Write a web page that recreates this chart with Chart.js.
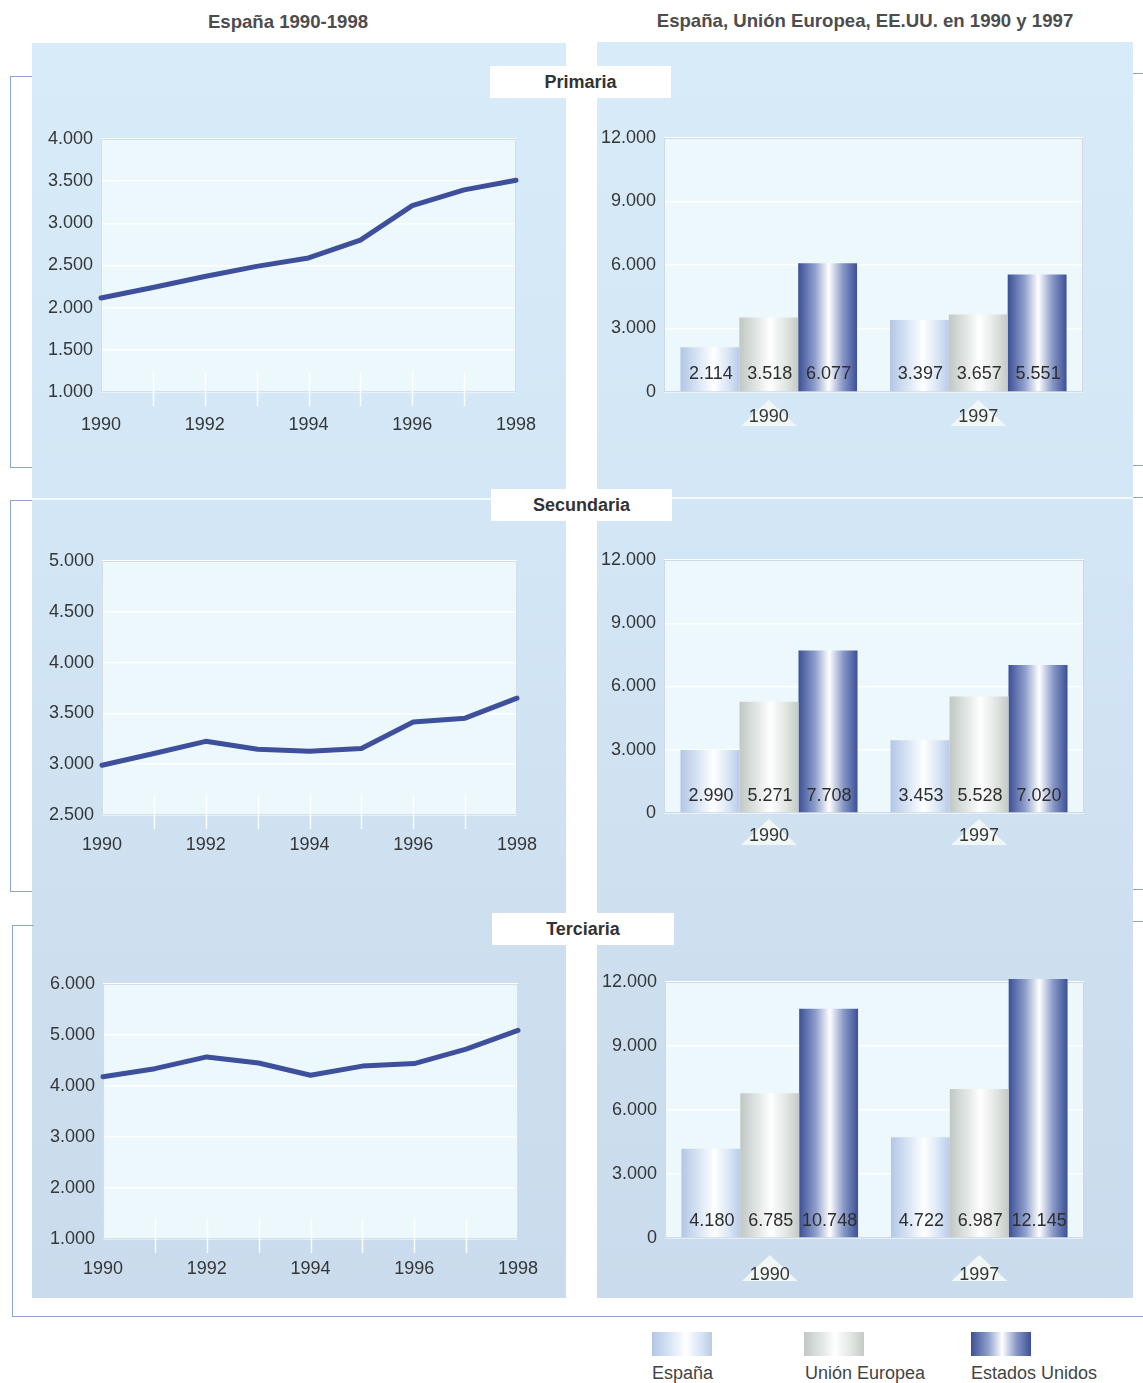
<!DOCTYPE html>
<html lang="es">
<head>
<meta charset="utf-8">
<title>Gasto por alumno: España, Unión Europea y EE.UU.</title>
<script src="https://cdn.jsdelivr.net/npm/chart.js@4.4.1/dist/chart.umd.min.js"></script>
<style>
  html, body { margin: 0; padding: 0; background: #fff; }
  #page { position: relative; width: 1143px; height: 1383px; overflow: hidden;
          font-family: "Liberation Sans", Arial, Helvetica, sans-serif; }
  .panel { position: absolute;
           background: linear-gradient(180deg, #d8ebf9 0%, #d3e6f5 40%, #cddfef 75%, #c9dbec 100%); }
  .sep { position: absolute; height: 2px; background: rgba(255,255,255,0.75); }
  .hdr { position: absolute; font-weight: bold; font-size: 18.6px; color: #4d4d4d;
         white-space: nowrap; transform: translateX(-50%); }
  .tag { position: absolute; background: #fff; font-weight: bold; font-size: 18px; color: #333;
         text-align: center; height: 32px; line-height: 33px; }
  .ln { position: absolute; background: #8fa4d6; }
  canvas { position: absolute; }
  .sw { position: absolute; width: 60px; height: 24px; top: 1332px; }
  .lg { position: absolute; font-size: 18px; color: #444; top: 1363px; white-space: nowrap; }
</style>
</head>
<body>
<div id="page">
  <div class="hdr" style="left:288px; top:11px;">España 1990-1998</div>
  <div class="hdr" style="left:865px; top:10px;">España, Unión Europea, EE.UU. en 1990 y 1997</div>

  <div class="panel" style="left:32px; top:43px; width:534px; height:1255px;"></div>
  <div class="panel" style="left:597px; top:42px; width:536px; height:1256px;"></div>
  <div class="sep" style="left:32px; top:498px; width:534px;"></div>
  <div class="sep" style="left:597px; top:497px; width:536px;"></div>

  <!-- brackets grouping each level -->
  <div class="ln" style="left:10px; top:76px; width:1px; height:392px;"></div>
  <div class="ln" style="left:10px; top:76px; width:22px; height:1px;"></div>
  <div class="ln" style="left:10px; top:467px; width:22px; height:1px;"></div>
  <div class="ln" style="left:10px; top:500px; width:1px; height:392px;"></div>
  <div class="ln" style="left:10px; top:500px; width:22px; height:1px;"></div>
  <div class="ln" style="left:10px; top:891px; width:22px; height:1px;"></div>
  <div class="ln" style="left:12px; top:925px; width:1px; height:392px;"></div>
  <div class="ln" style="left:12px; top:925px; width:22px; height:1px;"></div>
  <div class="ln" style="left:12px; top:1316px; width:1131px; height:1px;"></div>
  <div class="ln" style="left:1133px; top:73px; width:10px; height:1px;"></div>
  <div class="ln" style="left:1133px; top:465px; width:10px; height:1px;"></div>
  <div class="ln" style="left:1133px; top:497px; width:10px; height:1px;"></div>
  <div class="ln" style="left:1133px; top:889px; width:10px; height:1px;"></div>
  <div class="ln" style="left:1133px; top:921px; width:10px; height:1px;"></div>

  <canvas id="linePrimaria"   width="534" height="340" style="left:32px; top:110px;"></canvas>
  <canvas id="lineSecundaria" width="534" height="340" style="left:32px; top:530px;"></canvas>
  <canvas id="lineTerciaria"  width="534" height="340" style="left:32px; top:950px;"></canvas>
  <canvas id="barPrimaria"    width="536" height="340" style="left:597px; top:110px;"></canvas>
  <canvas id="barSecundaria"  width="536" height="340" style="left:597px; top:530px;"></canvas>
  <canvas id="barTerciaria"   width="536" height="345" style="left:597px; top:950px;"></canvas>

  <div class="tag" style="left:490px; top:66px; width:181px;">Primaria</div>
  <div class="tag" style="left:491px; top:489px; width:181px;">Secundaria</div>
  <div class="tag" style="left:492px; top:913px; width:182px;">Terciaria</div>

  <div class="sw" id="swEsp"  style="left:652px;"></div>
  <div class="sw" id="swUE"   style="left:804px;"></div>
  <div class="sw" id="swUSA"  style="left:971px;"></div>
  <div class="lg" id="lgEsp"  style="left:652px;"></div>
  <div class="lg" id="lgUE"   style="left:805px;"></div>
  <div class="lg" id="lgUSA"  style="left:971px;"></div>
</div>

<script>
// ---- data ----
const years = ['1990', '1991', '1992', '1993', '1994', '1995', '1996', '1997', '1998'];
const primariaSerie   = [2114, 2240, 2370, 2490, 2590, 2800, 3210, 3397, 3510];
const secundariaSerie = [2990, 3105, 3225, 3147, 3127, 3154, 3415, 3453, 3650];
const terciariaSerie  = [4180, 4340, 4570, 4450, 4210, 4390, 4440, 4722, 5090];

const compareYears = ['1990', '1997'];
const seriesNames = ['España', 'Unión Europea', 'Estados Unidos'];
const primariaEsp   = [2114, 3397];
const primariaUE    = [3518, 3657];
const primariaUSA   = [6077, 5551];
const secundariaEsp = [2990, 3453];
const secundariaUE  = [5271, 5528];
const secundariaUSA = [7708, 7020];
const terciariaEsp  = [4180, 4722];
const terciariaUE   = [6785, 6987];
const terciariaUSA  = [10748, 12145];

// ---- styling ----
const FONT = '"Liberation Sans", Arial, Helvetica, sans-serif';
const TEXT = '#363636';
const CAT_PCT = 0.843, BAR_PCT = 1;
const stops = {
  esp: [[0, '#b2c6e5'], [0.3, '#d9e5f5'], [0.56, '#ffffff'], [0.82, '#d8e4f4'], [1, '#b9cbe8']],
  ue:  [[0, '#c1c8c4'], [0.3, '#e2e7e4'], [0.52, '#ffffff'], [0.8, '#dfe4e1'], [1, '#c3c9c5']],
  usa: [[0, '#3c4f96'], [0.28, '#8d9ecb'], [0.52, '#ffffff'], [0.76, '#8797c7'], [1, '#3d5097']]
};

function fmt(v) { return String(v).replace(/\B(?=(\d{3})+(?!\d))/g, '.'); }
function cssGradient(s) { return 'linear-gradient(90deg,' + s.map(([o, c]) => c + ' ' + (o * 100) + '%').join(',') + ')'; }

// legend
document.getElementById('swEsp').style.background = cssGradient(stops.esp);
document.getElementById('swUE').style.background = cssGradient(stops.ue);
document.getElementById('swUSA').style.background = cssGradient(stops.usa);
document.getElementById('lgEsp').textContent = seriesNames[0];
document.getElementById('lgUE').textContent = seriesNames[1];
document.getElementById('lgUSA').textContent = seriesNames[2];

// plot background, frame, year marks and the small pointer behind each category label
const plotFrame = {
  id: 'plotFrame',
  beforeDraw(chart, args, o) {
    const { ctx, chartArea: a } = chart;
    const xs = chart.scales.x;
    ctx.save();
    ctx.fillStyle = o.fill;
    ctx.fillRect(a.left, a.top, a.width, a.height);
    if (o.tri) {
      ctx.fillStyle = '#f1f7f5';
      chart.data.labels.forEach((l, i) => {
        const cx = xs.getPixelForValue(i);
        ctx.beginPath();
        ctx.moveTo(cx, a.bottom + o.tri[0]);
        ctx.lineTo(cx + 28, a.bottom + o.tri[1]);
        ctx.lineTo(cx - 28, a.bottom + o.tri[1]);
        ctx.closePath();
        ctx.fill();
      });
    }
    ctx.restore();
  },
  beforeDatasetsDraw(chart, args, o) {
    const { ctx, chartArea: a } = chart;
    const xs = chart.scales.x;
    ctx.save();
    ctx.strokeStyle = o.frame;
    ctx.lineWidth = 1;
    ctx.strokeRect(a.left + 0.5, a.top + 0.5, a.width - 1, a.height - 1);
    if (o.yearMarks) {
      ctx.strokeStyle = 'rgba(255,255,255,0.9)';
      ctx.lineWidth = 1.5;
      const n = chart.data.labels.length;
      for (let i = 1; i < n - 1; i++) {
        const x = Math.round(xs.getPixelForValue(i)) + 0.5;
        ctx.beginPath();
        ctx.moveTo(x, a.bottom - 20);
        ctx.lineTo(x, a.bottom + 14);
        ctx.stroke();
      }
    }
    ctx.restore();
  }
};

// value written at the foot of each bar
const barValues = {
  id: 'barValues',
  afterDatasetsDraw(chart, args, o) {
    const { ctx, chartArea: a } = chart;
    ctx.save();
    ctx.font = '18px ' + FONT;
    ctx.fillStyle = '#2e2e2e';
    ctx.textAlign = 'center';
    ctx.textBaseline = 'middle';
    chart.data.datasets.forEach((ds, di) => {
      chart.getDatasetMeta(di).data.forEach((bar, i) => {
        ctx.fillText(fmt(ds.data[i]), bar.x + 1, a.bottom - o.offset);
      });
    });
    ctx.restore();
  }
};

function lineChart(id, values, min, max, step, box) {
  new Chart(document.getElementById(id), {
    type: 'line',
    data: { labels: years, datasets: [{
      data: values, borderColor: '#3e509c', borderWidth: 5, pointRadius: 0,
      tension: 0, borderJoinStyle: 'round', borderCapStyle: 'round', clip: false
    }] },
    options: {
      responsive: false, animation: false, events: [],
      layout: { padding: { left: 0, right: box.pr, top: box.pt, bottom: 0 } },
      plugins: { legend: { display: false }, tooltip: { enabled: false },
                 plotFrame: { fill: '#edf8fd', frame: '#d3dee6', yearMarks: true } },
      scales: {
        x: {
          offset: false,
          border: { display: false },
          grid: { display: false },
          ticks: { autoSkip: false, maxRotation: 0, padding: box.xpad, color: TEXT,
                   font: { family: FONT, size: 18 },
                   callback: (v, i) => (i % 2 === 0 ? years[i] : '') },
          afterFit: s => { s.height = box.xh; }
        },
        y: {
          min: min, max: max,
          border: { display: false },
          grid: { color: '#ffffff', lineWidth: 1.5, drawTicks: false },
          ticks: { stepSize: step, padding: 8, color: TEXT, font: { family: FONT, size: 18 }, callback: v => fmt(v) },
          afterFit: s => { s.width = box.yw; }
        }
      }
    },
    plugins: [plotFrame]
  });
}

function barFill(key) {
  return c => {
    const chart = c.chart, a = chart.chartArea;
    if (!a) return stops[key][0][1];
    const n = chart.data.labels.length, nd = chart.data.datasets.length;
    const grp = (a.width / n) * CAT_PCT, w = grp / nd * BAR_PCT;
    const left = chart.scales.x.getPixelForValue(c.dataIndex) - grp / 2 + c.datasetIndex * w;
    const g = chart.ctx.createLinearGradient(left, 0, left + w, 0);
    stops[key].forEach(([o, col]) => g.addColorStop(o, col));
    return g;
  };
}

function barChart(id, esp, ue, usa, box) {
  new Chart(document.getElementById(id), {
    type: 'bar',
    data: { labels: compareYears, datasets: [
      { label: seriesNames[0], data: esp, backgroundColor: barFill('esp') },
      { label: seriesNames[1], data: ue,  backgroundColor: barFill('ue') },
      { label: seriesNames[2], data: usa, backgroundColor: barFill('usa') }
    ] },
    options: {
      responsive: false, animation: false, events: [],
      datasets: { bar: { categoryPercentage: CAT_PCT, barPercentage: BAR_PCT, clip: false, borderWidth: 0 } },
      layout: { padding: { left: 0, right: box.pr, top: box.pt, bottom: 0 } },
      plugins: { legend: { display: false }, tooltip: { enabled: false },
                 plotFrame: { fill: '#edf8fd', frame: '#cfdae3', tri: box.tri },
                 barValues: { offset: box.vo } },
      scales: {
        x: {
          border: { display: false },
          grid: { display: false },
          ticks: { padding: box.xpad, color: TEXT, font: { family: FONT, size: 18 } },
          afterFit: s => { s.height = box.xh; }
        },
        y: {
          min: 0, max: 12000,
          border: { display: false },
          grid: { color: '#ffffff', lineWidth: 1.5, drawTicks: false },
          ticks: { stepSize: 3000, padding: 8, color: TEXT, font: { family: FONT, size: 18 }, callback: v => fmt(v) },
          afterFit: s => { s.width = box.yw; }
        }
      }
    },
    plugins: [plotFrame, barValues]
  });
}

lineChart('linePrimaria',   primariaSerie,   1000, 4000, 500,  { yw: 69, pr: 50, pt: 29, xh: 58, xpad: 14 });
lineChart('lineSecundaria', secundariaSerie, 2500, 5000, 500,  { yw: 70, pr: 49, pt: 31, xh: 55, xpad: 11 });
lineChart('lineTerciaria',  terciariaSerie,  1000, 6000, 1000, { yw: 71, pr: 48, pt: 34, xh: 51, xpad: 11 });

barChart('barPrimaria',   primariaEsp,   primariaUE,   primariaUSA,   { yw: 67, pr: 50, pt: 28, xh: 58, xpad: 6,  vo: 18, tri: [8, 34] });
barChart('barSecundaria', secundariaEsp, secundariaUE, secundariaUSA, { yw: 67, pr: 49, pt: 30, xh: 57, xpad: 4,  vo: 17, tri: [6, 32] });
barChart('barTerciaria',  terciariaEsp,  terciariaUE,  terciariaUSA,  { yw: 68, pr: 49, pt: 32, xh: 57, xpad: 18, vo: 17, tri: [17, 43] });
</script>
</body>
</html>
